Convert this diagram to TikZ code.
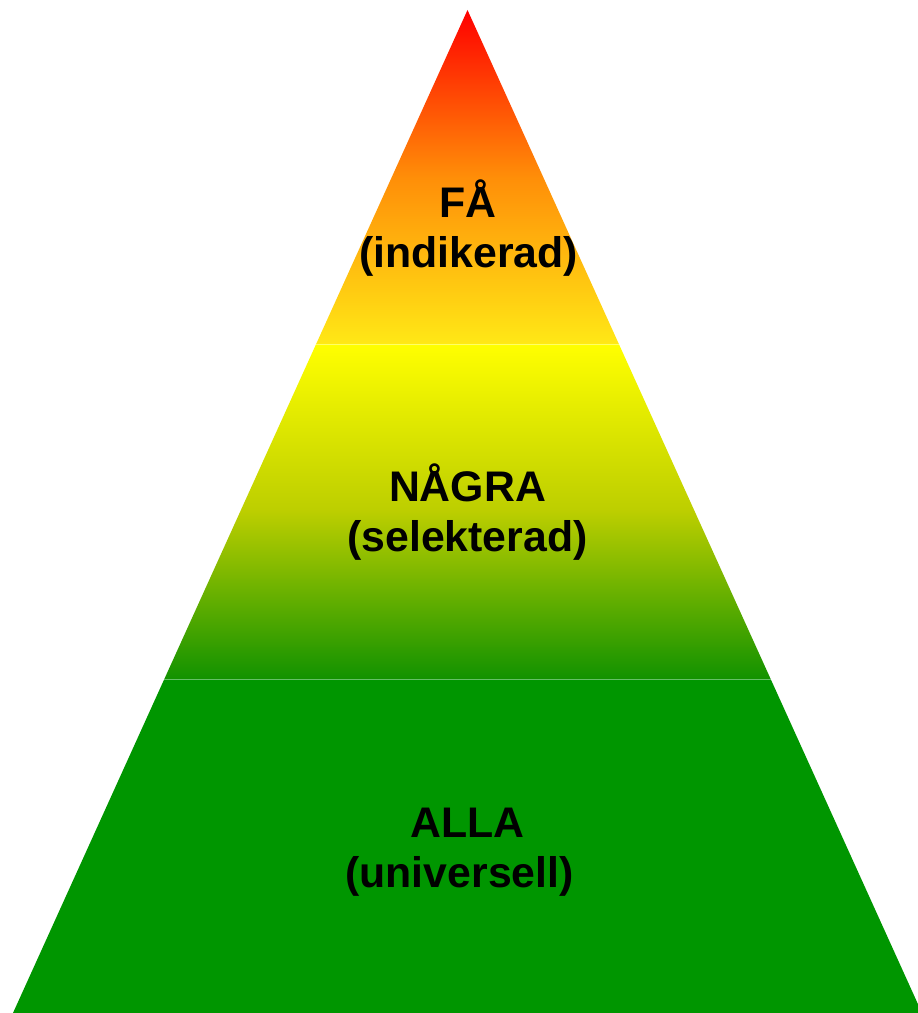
\documentclass[tikz,border=0pt]{standalone}
\usepackage{fontspec}
\setmainfont{Liberation Sans}
\usetikzlibrary{calc}
\definecolor{pyrRed}{RGB}{255,0,0}
\definecolor{pyrOrange}{RGB}{255,142,8}
\definecolor{pyrGold}{RGB}{255,232,22}
\definecolor{pyrYellow}{RGB}{255,255,0}
\definecolor{pyrLime}{RGB}{188,206,0}
\definecolor{pyrDeep}{RGB}{18,146,0}
\definecolor{pyrGreen}{RGB}{0,150,0}
\tikzset{
  lbl/.style={anchor=base, inner sep=0pt, font=\bfseries\fontsize{42.8}{50}\selectfont, text=black},
  seam/.style={draw=white, draw opacity=0.4, line width=0.8pt}
}
\begin{document}
\begin{tikzpicture}[x=1pt,y=1pt]
\useasboundingbox (0,0) rectangle (918,1013);
\clip (0,0) rectangle (918,1013);
\coordinate (apex) at (467.5,1003);
\coordinate (bl) at (13,0);
\coordinate (br) at (922,0);
\coordinate (l1) at ($(apex)!0.3330!(bl)$);
\coordinate (r1) at ($(apex)!0.3330!(br)$);
\coordinate (l2) at ($(apex)!0.6670!(bl)$);
\coordinate (r2) at ($(apex)!0.6670!(br)$);
% layers
\path[top color=pyrRed, bottom color=pyrGold, middle color=pyrOrange]
  (apex) -- (r1) -- (l1) -- cycle;
\path[top color=pyrYellow, bottom color=pyrDeep, middle color=pyrLime]
  (l1) -- (r1) -- (r2) -- (l2) -- cycle;
\fill[pyrGreen] (l2) -- (r2) -- (br) -- (bl) -- cycle;
\draw[seam] (l1) -- (r1);
\draw[seam] (l2) -- (r2);
% labels
\node[lbl] (fa) at (468,795.3) {FÅ};
\node[lbl] (ind) at (468.5,745) {(indikerad)};
\node[lbl] (nagra) at (467.5,511.3) {NÅGRA};
\node[lbl] (sel) at (467.5,461.3) {(selekterad)};
\node[lbl] (alla) at (467.5,175.3) {ALLA};
\node[lbl] (uni) at (459.5,125.3) {(universell)};
\end{tikzpicture}
\end{document}
